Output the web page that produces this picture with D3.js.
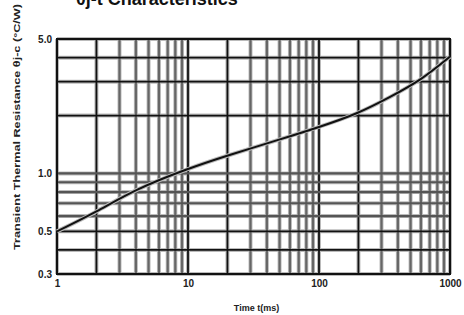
<!DOCTYPE html>
<html>
<head>
<meta charset="utf-8">
<script src="https://cdn.jsdelivr.net/npm/d3@7"></script>
<style>
  body { margin: 0; background: #fff; }
  svg { display: block; font-family: "Liberation Sans", Arial, sans-serif; }
  .axis path, .axis line { display: none; }
  .axis text { font-size: 10px; font-weight: bold; fill: #222; }
</style>
</head>
<body>
<svg class="chart"></svg>
<script>
// transient thermal resistance curve
var timeMs = [1, 2, 4, 10, 20, 50, 100, 200, 350, 600, 1000];
var thetaJc = [0.5, 0.63, 0.83, 1.06, 1.24, 1.5, 1.74, 2.05, 2.5, 3.05, 4.05];

var xTicks = [1, 10, 100, 1000];
var yTicks = [0.3, 0.5, 1.0, 5.0];
var yGrid = [5, 4, 3, 2, 1, 0.9, 0.8, 0.7, 0.6, 0.5, 0.4, 0.3];
var yGridBold = [5, 4, 3, 2, 0.5, 0.4, 0.3];

var margin = {top: 39, right: 14, bottom: 41, left: 57},
    width = 464 - margin.left - margin.right,
    height = 315 - margin.top - margin.bottom;

var svg = d3.select('.chart')
    .attr('width', 464)
    .attr('height', 315);

var chart = svg.append('g')
    .attr('transform', 'translate(' + margin.left + ',' + margin.top + ')');

var x = d3.scaleLog().domain([1, 1000]).range([0, width]);
var y = d3.scaleLog().domain([0.3, 5]).range([height, 0]);

// vertical grid: every 1..9 in each decade
var xGrid = [];
[1, 10, 100].forEach(function(dec) {
  for (var k = 1; k < 10; k++) xGrid.push(dec * k);
});
xGrid.push(1000);
var isBoldX = function(v) {
  var m = v / Math.pow(10, Math.floor(Math.log10(v) + 1e-9));
  return Math.abs(m - 1) < 1e-6 || Math.abs(m - 2) < 1e-6;
};

// halo first (scan blur), then the line itself
chart.selectAll('.vhalo')
    .data(xGrid)
    .enter().append('line')
    .attr('x1', function(d) { return x(d); })
    .attr('x2', function(d) { return x(d); })
    .attr('y1', 0).attr('y2', height)
    .style('stroke', '#bbb')
    .style('stroke-width', 4);

chart.selectAll('.hhalo')
    .data(yGrid)
    .enter().append('line')
    .attr('x1', 0).attr('x2', width)
    .attr('y1', function(d) { return y(d); })
    .attr('y2', function(d) { return y(d); })
    .style('stroke', '#bbb')
    .style('stroke-width', 4);

chart.selectAll('.vgrid')
    .data(xGrid)
    .enter().append('line')
    .attr('x1', function(d) { return x(d); })
    .attr('x2', function(d) { return x(d); })
    .attr('y1', 0).attr('y2', height)
    .style('stroke', function(d) { return isBoldX(d) ? '#111' : '#666'; })
    .style('stroke-width', function(d) { return isBoldX(d) ? 1.8 : 2.2; });

chart.selectAll('.hgrid')
    .data(yGrid)
    .enter().append('line')
    .attr('x1', 0).attr('x2', width)
    .attr('y1', function(d) { return y(d); })
    .attr('y2', function(d) { return y(d); })
    .style('stroke', function(d) { return yGridBold.indexOf(d) >= 0 ? '#111' : '#555'; })
    .style('stroke-width', function(d) { return yGridBold.indexOf(d) >= 0 ? 1.8 : 2.2; });

chart.append('rect')
    .attr('width', width).attr('height', height)
    .style('fill', 'none')
    .style('stroke', '#111')
    .style('stroke-width', 2);

// curve
var pts = timeMs.map(function(t, i) { return [t, thetaJc[i]]; });
var line = d3.line()
    .x(function(d) { return x(d[0]); })
    .y(function(d) { return y(d[1]); })
    .curve(d3.curveBasis);

chart.append('path')
    .datum(pts)
    .attr('d', line)
    .style('fill', 'none')
    .style('stroke', '#bbb')
    .style('stroke-width', 4);
chart.append('path')
    .datum(pts)
    .attr('d', line)
    .style('fill', 'none')
    .style('stroke', '#111')
    .style('stroke-width', 2);

// axes (labels only)
chart.append('g')
    .attr('class', 'x axis')
    .attr('transform', 'translate(0,' + height + ')')
    .call(d3.axisBottom(x).tickValues(xTicks).tickFormat(d3.format('d')).tickSize(0).tickPadding(6));

chart.append('g')
    .attr('class', 'y axis')
    .call(d3.axisLeft(y).tickValues(yTicks).tickFormat(d3.format('.1f')).tickSize(0).tickPadding(5));

chart.append('text')
    .attr('x', width / 2 + 3)
    .attr('y', height + 37)
    .attr('text-anchor', 'middle')
    .style('font-size', '9px')
    .style('font-weight', 'bold')
    .style('fill', '#222')
    .text('Time t(ms)');

svg.append('text')
    .attr('transform', 'translate(20,127) rotate(-90)')
    .attr('text-anchor', 'middle')
    .attr('textLength', 246)
    .attr('lengthAdjust', 'spacingAndGlyphs')
    .style('font-size', '9.5px')
    .style('font-weight', 'bold')
    .style('fill', '#222')
    .text('Transient Thermal Resistance θj-c (°C/W)');

// title, cropped at the top edge as in the scan
svg.append('text')
    .attr('x', 76)
    .attr('y', 5)
    .style('font-size', '18px')
    .style('font-weight', 'bold')
    .style('fill', '#111')
    .text('θj-t Characteristics');
</script>
</body>
</html>
